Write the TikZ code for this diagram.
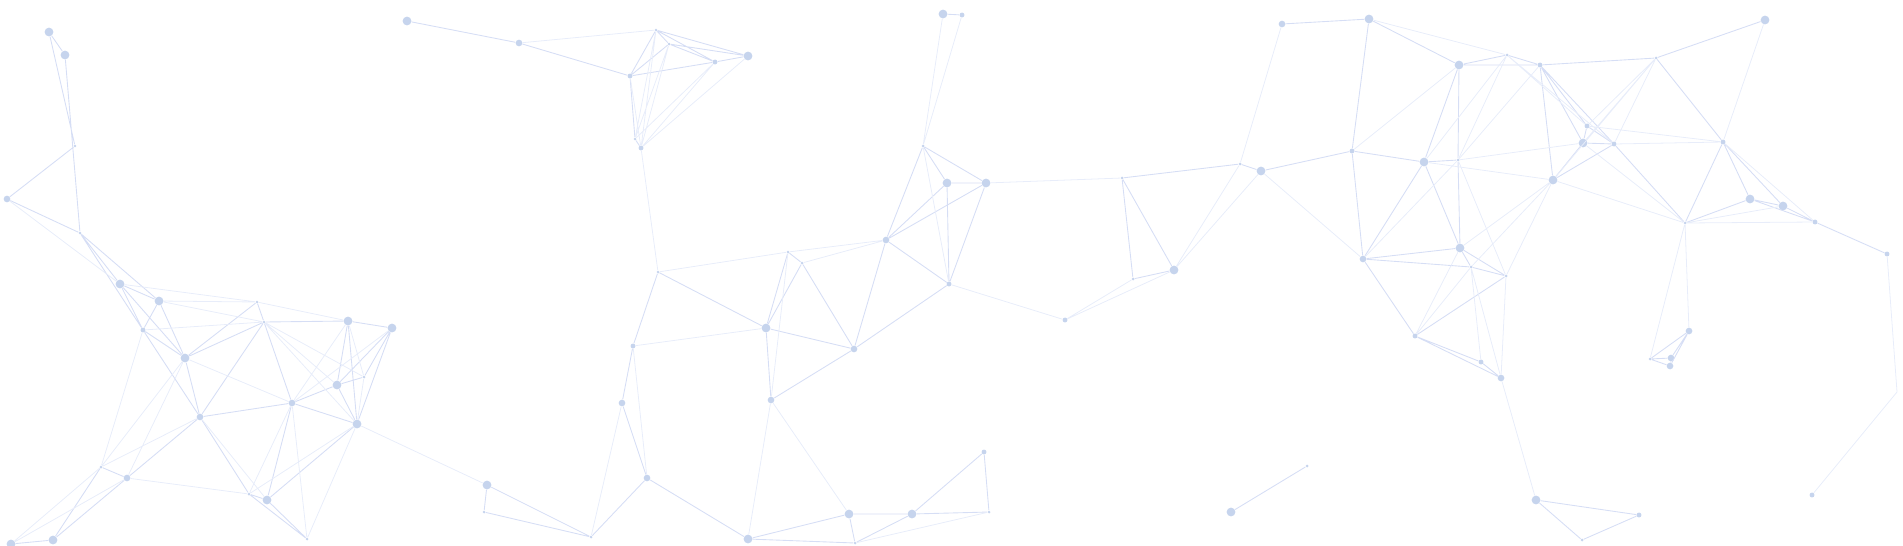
\documentclass[tikz,border=0pt]{standalone}
\usepackage{tikz}
\definecolor{dotblue}{RGB}{198,212,237}
\definecolor{lineblue}{RGB}{214,222,245}
\definecolor{linepale}{RGB}{232,237,250}

\begin{document}
\begin{tikzpicture}[x=0.02cm,y=-0.02cm,
  dot/.style={circle,fill=dotblue,draw=none,inner sep=0pt},
  dotbig/.style={dot,minimum size=5pt},
  dotmid/.style={dot,minimum size=3.8pt},
  dotsmall/.style={dot,minimum size=2.8pt},
  dottiny/.style={dot,minimum size=1.7pt},
  link/.style={draw=lineblue,line width=0.5pt},
  linkfaint/.style={draw=linepale,line width=0.45pt}]
% Fix the frame of the picture
\useasboundingbox (0,0) rectangle (1903,545);
\clip (0,0) rectangle (1903,545);

% Left cluster
\node[dotbig] (a1) at (49,32) {};
\node[dotbig] (a2) at (65,55) {};
\node[dottiny] (a3) at (75,146) {};
\node[dotmid] (a4) at (7,199) {};
\node[dottiny] (a5) at (80,233) {};
\node[dotbig] (b1) at (120,284) {};
\node[dotbig] (b2) at (159,301) {};
\node[dotsmall] (b3) at (143,330) {};
\node[dotbig] (b4) at (185,358) {};
\node[dottiny] (b5) at (257,302) {};
\node[dottiny] (b6) at (264,322) {};
\node[dotbig] (b7) at (348,321) {};
\node[dotbig] (b8) at (392,328) {};
\node[dottiny] (b9) at (364,377) {};
\node[dotbig] (b10) at (337,385) {};
\node[dotmid] (b11) at (292,403) {};
\node[dotbig] (b12) at (357,424) {};
\node[dotmid] (b13) at (200,417) {};
\node[dottiny] (b14) at (101,467) {};
\node[dotmid] (b15) at (127,478) {};
\node[dottiny] (b16) at (249,494) {};
\node[dotbig] (b17) at (267,500) {};
\node[dottiny] (b18) at (307,539) {};
\node[dotbig] (b19) at (53,540) {};
\node[dotbig] (b20) at (11,544) {};

% Middle cluster, top
\node[dotbig] (c1) at (407,21) {};
\node[dotmid] (c2) at (519,43) {};
\node[dottiny] (c3) at (656,30) {};
\node[dottiny] (c4) at (669,44) {};
\node[dotsmall] (c5) at (630,76) {};
\node[dotsmall] (c6) at (715,62) {};
\node[dotbig] (c7) at (748,56) {};
\node[dottiny] (c8) at (635,139) {};
\node[dotsmall] (c9) at (641,148) {};
\node[dottiny] (c10) at (658,272) {};
\node[dottiny] (c11) at (788,252) {};
\node[dottiny] (c12) at (802,263) {};

% Middle cluster, bottom
\node[dotsmall] (d2) at (633,346) {};
\node[dotmid] (d3) at (622,403) {};
\node[dotmid] (d4) at (647,478) {};
\node[dotbig] (d5) at (487,485) {};
\node[dottiny] (d6) at (484,512) {};
\node[dottiny] (d7) at (591,537) {};
\node[dotbig] (d8) at (766,328) {};
\node[dotmid] (d9) at (854,349) {};
\node[dotmid] (d10) at (771,400) {};
\node[dotbig] (d11) at (748,539) {};
\node[dotbig] (d12) at (849,514) {};
\node[dotbig] (d13) at (912,514) {};
\node[dottiny] (d14) at (989,512) {};
\node[dotsmall] (d15) at (984,452) {};
\node[dottiny] (d16) at (855,543) {};

% Centre
\node[dotbig] (e1) at (943,14) {};
\node[dotsmall] (e2) at (962,15) {};
\node[dottiny] (e3) at (923,146) {};
\node[dotbig] (e4) at (947,183) {};
\node[dotbig] (e5) at (986,183) {};
\node[dotmid] (e6) at (886,240) {};
\node[dotsmall] (e7) at (949,284) {};
\node[dottiny] (e8) at (1122,178) {};
\node[dottiny] (e9) at (1133,279) {};

% Right cluster
\node[dotmid] (f1) at (1282,24) {};
\node[dotbig] (f2) at (1369,19) {};
\node[dotbig] (f3) at (1459,65) {};
\node[dottiny] (f4) at (1507,55) {};
\node[dotsmall] (f5) at (1352,151) {};
\node[dotbig] (f6) at (1424,162) {};
\node[dottiny] (f7) at (1458,160) {};
\node[dotbig] (f8) at (1261,171) {};
\node[dottiny] (f9) at (1240,164) {};
\node[dotbig] (f10) at (1174,270) {};
\node[dotmid] (f11) at (1363,259) {};
\node[dotbig] (f12) at (1460,248) {};
\node[dottiny] (f13) at (1471,267) {};
\node[dottiny] (f14) at (1506,276) {};

\node[dotsmall] (g1) at (1540,65) {};
\node[dotbig] (g2) at (1765,20) {};
\node[dottiny] (g3) at (1656,58) {};
\node[dotsmall] (g4) at (1587,126) {};
\node[dotbig] (g5) at (1583,143) {};
\node[dotsmall] (g6) at (1614,144) {};
\node[dotsmall] (g7) at (1723,142) {};
\node[dotbig] (g8) at (1553,180) {};
\node[dottiny] (g9) at (1685,223) {};
\node[dotbig] (g10) at (1750,199) {};
\node[dotbig] (g11) at (1783,206) {};
\node[dotsmall] (g12) at (1815,222) {};
\node[dotsmall] (g13) at (1887,254) {};
\coordinate (edge) at (1897,392);

\node[dotsmall] (h1) at (1065,320) {};
\node[dotsmall] (h2) at (1415,336) {};
\node[dotsmall] (h3) at (1481,362) {};
\node[dotmid] (h4) at (1501,378) {};
\node[dotmid] (h7) at (1689,331) {};
\node[dottiny] (h8) at (1650,359) {};
\node[dotmid] (h9) at (1671,358) {};
\node[dotmid] (h10) at (1670,366) {};
\node[dotbig] (h11) at (1231,512) {};
\node[dottiny] (h12) at (1307,466) {};
\node[dotbig] (h13) at (1536,500) {};
\node[dotsmall] (h14) at (1639,515) {};
\node[dottiny] (h15) at (1582,540) {};
\node[dotsmall] (h16) at (1812,495) {};

% Links, left cluster
\draw[link] (a1) -- (a2) (a1) -- (a3) (a2) -- (a5) (a3) -- (a4) (a4) -- (a5)
  (a5) -- (b1) (a5) -- (b2) (a5) -- (b3)
  (b1) -- (b2) (b1) -- (b3) (b1) -- (b4) (b2) -- (b3) (b2) -- (b4)
  (b3) -- (b4) (b3) -- (b13) (b4) -- (b13) (b4) -- (b5) (b4) -- (b6)
  (b5) -- (b6) (b6) -- (b7) (b6) -- (b11) (b6) -- (b13)
  (b7) -- (b8) (b7) -- (b10) (b7) -- (b12) (b8) -- (b9) (b8) -- (b10) (b8) -- (b12)
  (b9) -- (b10) (b10) -- (b11) (b10) -- (b12) (b11) -- (b12) (b11) -- (b13)
  (b13) -- (b15) (b13) -- (b16) (b14) -- (b15) (b14) -- (b19) (b15) -- (b19)
  (b16) -- (b17) (b17) -- (b18) (b16) -- (b18) (b11) -- (b17) (b12) -- (b17)
  (b19) -- (b20);
\draw[linkfaint] (a4) -- (b1) (b1) -- (b5) (b2) -- (b5) (b2) -- (b6) (b3) -- (b6)
  (b5) -- (b7) (b6) -- (b9) (b6) -- (b10) (b6) -- (b12) (b7) -- (b11) (b7) -- (b9)
  (b9) -- (b12) (b4) -- (b11) (b13) -- (b14) (b13) -- (b17) (b11) -- (b16)
  (b11) -- (b18) (b12) -- (b18) (b12) -- (b16) (b14) -- (b20) (b15) -- (b20)
  (b15) -- (b16) (b4) -- (b14) (b4) -- (b15) (b3) -- (b14) (b8) -- (b11);

% Links, middle cluster
\draw[link] (c1) -- (c2) (c2) -- (c5) (c3) -- (c4) (c3) -- (c5) (c3) -- (c6)
  (c4) -- (c5) (c4) -- (c6) (c5) -- (c6) (c6) -- (c7) (c5) -- (c8) (c8) -- (c9)
  (c3) -- (c7) (c4) -- (c7) (c11) -- (c12);
\draw[linkfaint] (c2) -- (c3) (c5) -- (c9) (c3) -- (c8) (c3) -- (c9) (c4) -- (c8)
  (c4) -- (c9) (c6) -- (c8) (c6) -- (c9) (c7) -- (c9) (c9) -- (c10) (c10) -- (c11)
  (c12) -- (e6) (c11) -- (e6);
\draw[link] (c10) -- (d2) (d2) -- (d3) (d3) -- (d4) (d4) -- (d7) (d4) -- (d11)
  (d5) -- (d6) (d5) -- (d7) (d6) -- (d7) (c10) -- (d8) (d8) -- (d9) (d8) -- (d10)
  (d8) -- (c11) (d8) -- (c12) (d9) -- (d10) (d9) -- (c12) (d9) -- (e6) (d9) -- (e7)
  (d11) -- (d12) (d11) -- (d16) (d12) -- (d13) (d12) -- (d16) (d13) -- (d16)
  (d13) -- (d14) (d13) -- (d15) (d14) -- (d15);
\draw[linkfaint] (d2) -- (d8) (d2) -- (d4) (d3) -- (d7) (d5) -- (b12) (d10) -- (d11)
  (d10) -- (d12) (d10) -- (c11) (d14) -- (d16);

% Links, centre
\draw[link] (e1) -- (e2) (e3) -- (e4) (e3) -- (e5) (e3) -- (e6) (e4) -- (e5)
  (e4) -- (e6) (e4) -- (e7) (e5) -- (e6) (e5) -- (e7) (e6) -- (e7) (e8) -- (e9)
  (e9) -- (f10) (e8) -- (f10) (e8) -- (f9);
\draw[linkfaint] (e1) -- (e3) (e2) -- (e3) (e3) -- (e7) (e5) -- (e8) (e7) -- (h1)
  (e9) -- (h1) (h1) -- (f10);

% Links, right cluster
\draw[link] (f1) -- (f2) (f2) -- (f3) (f2) -- (f5) (f3) -- (f4) (f3) -- (g1)
  (f3) -- (f6) (f3) -- (f7) (f5) -- (f6) (f6) -- (f7) (f5) -- (f8) (f8) -- (f9)
  (f5) -- (f11) (f6) -- (f11) (f6) -- (f12) (f7) -- (f12) (f11) -- (f12)
  (f11) -- (f13) (f12) -- (f13) (f12) -- (f14) (f13) -- (f14) (f4) -- (g1);
\draw[linkfaint] (f1) -- (f9) (f2) -- (f4) (f3) -- (f5) (f8) -- (f10) (f9) -- (f10)
  (f8) -- (f11) (f7) -- (f11) (f7) -- (f14) (f4) -- (f7) (f4) -- (f6);
\draw[link] (g1) -- (g3) (g2) -- (g3) (g1) -- (g4) (g1) -- (g5) (g1) -- (g6)
  (g1) -- (g8) (g4) -- (g5) (g4) -- (g6) (g5) -- (g6) (g5) -- (g8) (g6) -- (g8)
  (g3) -- (g7) (g7) -- (g9) (g7) -- (g10) (g7) -- (g11) (g9) -- (g10)
  (g10) -- (g11) (g10) -- (g12) (g11) -- (g12) (g12) -- (g13) (g6) -- (g9);
\draw[linkfaint] (g2) -- (g7) (g3) -- (g4) (g3) -- (g5) (g3) -- (g6) (g3) -- (g8)
  (f4) -- (g4) (f4) -- (g6) (g1) -- (f7) (g5) -- (f7) (g8) -- (f6) (g8) -- (f12)
  (g8) -- (f13) (g8) -- (f14) (g4) -- (g7) (g6) -- (g7) (g5) -- (g9) (g8) -- (g9)
  (g9) -- (g11) (g9) -- (g12) (g7) -- (g12) (g13) -- (edge) (h16) -- (edge);

% Links, lower right
\draw[link] (h2) -- (h3) (h2) -- (h4) (h3) -- (h4) (f11) -- (h2) (h2) -- (f14)
  (h7) -- (h8) (h7) -- (h9) (h7) -- (h10) (h8) -- (h9) (h8) -- (h10) (h9) -- (h10)
  (h11) -- (h12) (h13) -- (h14) (h13) -- (h15) (h14) -- (h15);
\draw[linkfaint] (h2) -- (f12) (h2) -- (f13) (h3) -- (f13) (h4) -- (f13) (h4) -- (f14)
  (h4) -- (h13) (g9) -- (h7) (g9) -- (h8);
\end{tikzpicture}
\end{document}
